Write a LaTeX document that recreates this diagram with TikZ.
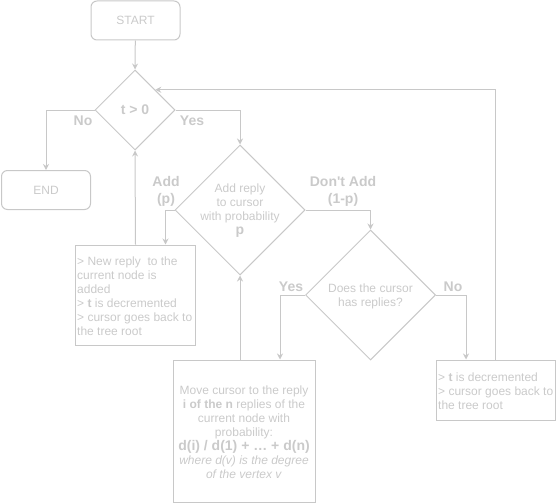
\documentclass[tikz,border=0pt]{standalone}
\usepackage{fontspec}
\setmainfont{Liberation Sans}[Ligatures=TeXOff]
\usetikzlibrary{shapes.geometric,arrows.meta}
\definecolor{ln}{RGB}{200,200,200}
\definecolor{tx}{RGB}{202,202,202}
\tikzset{
  base/.style={draw=ln,line width=1pt,inner sep=0pt},
  term/.style={base,rounded corners=6pt,minimum width=89pt,minimum height=39pt,text=tx,font=\fontsize{12}{14}\selectfont},
  dec/.style={base,diamond,aspect=1},
  boxn/.style={base,rectangle},
  txt/.style={text=tx,inner sep=0pt,font=\fontsize{12}{14}\selectfont},
  lbl/.style={text=tx,inner sep=0pt,font=\fontsize{14}{17}\selectfont\bfseries,align=center},
  arr/.style={draw=ln,line width=1pt,-{Stealth[length=6pt,width=6pt,inset=2pt]}},
}
\begin{document}
\begin{tikzpicture}[x=1pt,y=-1pt]
\useasboundingbox (0,0) rectangle (556,503);
% terminals
\node[term] (start) at (135.5,20.5) {START};
\node[term] (endn) at (46,190) {END};
% decisions
\node[dec,minimum width=80pt,minimum height=80pt] (d1) at (135,110) {};
\node[lbl] (d1t) at (135,110) {t > 0};
\node[dec,minimum width=130pt,minimum height=130pt] (d2) at (240,210) {};
\node[txt,align=center] (d2t) at (240,211) {Add reply\\to cursor\\with probability\\{\fontsize{14}{16}\selectfont\bfseries p}};
\node[dec,minimum width=130pt,minimum height=130pt] (d3) at (370.5,295) {};
\node[txt,align=center] (d3t) at (370.5,296) {Does the cursor\\has replies?};
% boxes
\node[boxn,minimum width=120pt,minimum height=100pt] (b1) at (135.5,295) {};
\node[txt,align=left,anchor=west] (b1t) at (77,296) {> New reply\ \ to the\\current node is\\added\\> \textbf{t} is decremented\\> cursor goes back to\\the tree root};
\node[boxn,minimum width=142pt,minimum height=142pt] (b2) at (244,431) {};
\node[txt,align=center] (b2t) at (244,432) {Move cursor to the reply\\\textbf{i of the n} replies of the\\current node with\\probability:\\{\fontsize{14}{15}\selectfont\bfseries d(i) / d(1) + … + d(n)}\\\textit{where d(v) is the degree}\\\textit{of the vertex v}};
\node[boxn,minimum width=119pt,minimum height=60pt] (b3) at (495.5,390) {};
\node[txt,align=left,anchor=west] (b3t) at (438,391) {> \textbf{t} is decremented\\> cursor goes back to\\the tree root};
% labels
\node[lbl] (lno1) at (83,121) {No};
\node[lbl] (lyes1) at (192,121) {Yes};
\node[lbl] (ladd) at (166,191) {Add\\(p)};
\node[lbl] (ldont) at (343,191) {Don't Add\\(1-p)};
\node[lbl] (lyes2) at (291,287) {Yes};
\node[lbl] (lno2) at (453,287) {No};
% connectors
\draw[arr] (start) -- (d1.north);
\draw[arr] (d1.west) -| (endn.north);
\draw[arr] (d1.east) -| (d2.north);
\draw[arr] (d2.west) -| ([xshift=30pt]b1.north);
\draw[arr] (b1.north) -- (d1.south);
\draw[arr] (d2.east) -| (d3.north);
\draw[arr] (d3.west) -| ([xshift=36pt]b2.north);
\draw[arr] ([xshift=-4pt]b2.north) -- (d2.south);
\draw[arr] (d3.east) -| ([xshift=-29.5pt]b3.north);
\draw[arr] (b3.north) |- (d1.north east);
\end{tikzpicture}
\end{document}
